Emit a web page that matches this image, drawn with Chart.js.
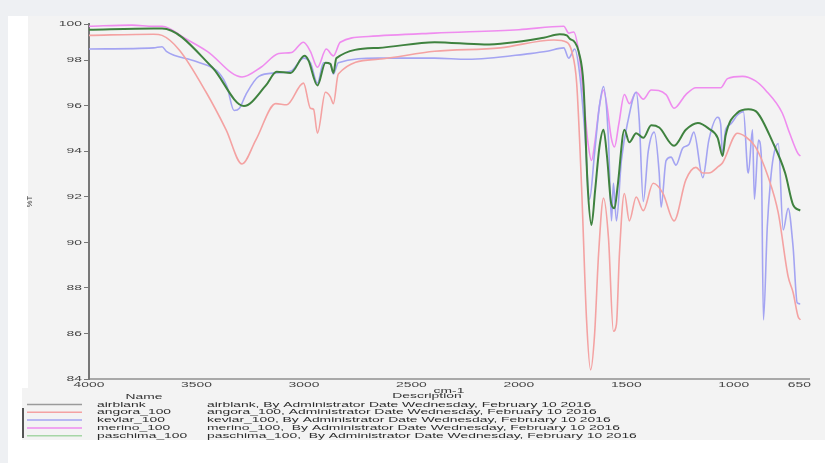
<!DOCTYPE html>
<html>
<head>
<meta charset="utf-8">
<title>FTIR spectra</title>
<script src="https://cdn.jsdelivr.net/npm/chart.js@4.4.0/dist/chart.umd.min.js"></script>
<style>
  html, body { margin: 0; padding: 0; background: #fff; }
  canvas { display: block; }
</style>
</head>
<body>
<canvas id="spectra" width="825" height="463"></canvas>
<script>
// series: wavenumber (cm-1) and %T
const wnAirblank = [];
const tAirblank = [];

const wnAngora = [4000, 3700, 3660, 3579, 3455, 3362, 3288, 3224, 3131, 3080, 3002, 2970, 2955, 2937, 2900, 2877, 2863, 2840, 2655, 2392, 2087, 1837, 1777, 1754, 1731, 1708, 1685, 1666, 1648, 1629, 1606, 1583, 1560, 1546, 1532, 1509, 1486, 1454, 1421, 1375, 1329, 1278, 1223, 1176, 1144, 1116, 1070, 1052, 983, 946, 899, 839, 793, 747, 724, 701, 690];
const tAngora = [99.1, 99.15, 99.1, 98.45, 96.6, 94.95, 93.45, 94.5, 96.1, 96.05, 97.0, 95.9, 95.85, 94.8, 96.6, 96.4, 96.1, 97.4, 98.05, 98.4, 98.55, 98.9, 98.8, 98.4, 97.0, 92.4, 86.6, 84.4, 85.9, 89.5, 91.95, 90.2, 86.1, 86.4, 89.5, 92.15, 90.95, 92.0, 91.4, 92.6, 92.15, 90.95, 92.75, 93.3, 93.05, 93.05, 93.35, 93.5, 94.8, 94.65, 94.2, 92.85, 91.3, 88.5, 87.8, 86.75, 86.6];

const wnKevlar = [4000, 3700, 3660, 3640, 3501, 3395, 3358, 3325, 3300, 3270, 3210, 3131, 3057, 3002, 2970, 2937, 2909, 2877, 2863, 2840, 2655, 2392, 2239, 1948, 1869, 1791, 1768, 1740, 1717, 1694, 1671, 1648, 1625, 1606, 1583, 1569, 1560, 1546, 1523, 1491, 1454, 1440, 1421, 1398, 1370, 1347, 1338, 1315, 1292, 1269, 1237, 1209, 1186, 1144, 1116, 1075, 1061, 1052, 1038, 1015, 983, 955, 936, 932, 913, 904, 885, 872, 862, 844, 830, 816, 793, 770, 747, 724, 705, 691];
const tKevlar = [98.5, 98.55, 98.6, 98.4, 97.95, 97.45, 96.85, 95.8, 95.9, 96.5, 97.3, 97.45, 97.55, 98.1, 97.9, 97.0, 97.9, 97.85, 97.4, 97.9, 98.1, 98.1, 98.05, 98.3, 98.4, 98.55, 98.1, 98.5, 97.4, 94.95, 91.9, 93.9, 96.0, 96.85, 94.5, 90.95, 92.6, 90.95, 93.6, 95.4, 96.6, 95.4, 91.8, 94.0, 94.85, 93.05, 91.55, 93.6, 93.75, 93.4, 94.15, 94.3, 94.85, 92.85, 94.5, 95.5, 95.2, 93.8, 94.95, 95.2, 95.6, 95.75, 93.2, 93.05, 94.95, 91.9, 94.5, 93.8, 86.6, 90.7, 92.6, 93.75, 94.35, 90.55, 91.5, 89.8, 87.35, 87.3];

const wnMerino = [4000, 3800, 3700, 3660, 3550, 3450, 3288, 3200, 3117, 3057, 3002, 2970, 2937, 2896, 2863, 2831, 2700, 2392, 2000, 1791, 1768, 1745, 1722, 1700, 1680, 1662, 1645, 1625, 1606, 1590, 1570, 1555, 1535, 1509, 1486, 1454, 1421, 1384, 1315, 1278, 1223, 1176, 1061, 1029, 959, 899, 853, 775, 740, 701, 690];
const tMerino = [99.5, 99.55, 99.5, 99.5, 98.95, 98.4, 97.27, 97.7, 98.3, 98.35, 98.8, 98.4, 97.7, 98.5, 98.2, 98.8, 99.05, 99.2, 99.35, 99.5, 99.2, 99.25, 98.4, 96.5, 94.5, 93.6, 94.5, 96.0, 96.7, 96.0, 94.6, 94.2, 95.2, 96.5, 96.1, 96.6, 96.3, 96.7, 96.5, 95.9, 96.5, 96.8, 96.8, 97.2, 97.3, 97.1, 96.7, 95.7, 94.8, 93.9, 93.8];

const wnPaschima = [4000, 3700, 3660, 3427, 3279, 3177, 3127, 3062, 2997, 2979, 2937, 2900, 2877, 2863, 2849, 2655, 2392, 2161, 1884, 1810, 1777, 1763, 1740, 1722, 1699, 1680, 1662, 1645, 1625, 1606, 1590, 1570, 1555, 1540, 1509, 1486, 1454, 1421, 1384, 1347, 1278, 1223, 1167, 1116, 1075, 1052, 1038, 983, 932, 890, 821, 761, 724, 691];
const tPaschima = [99.35, 99.4, 99.4, 97.7, 96.0, 96.9, 97.5, 97.45, 98.2, 98.0, 96.9, 97.9, 97.85, 97.45, 98.1, 98.55, 98.8, 98.7, 99.0, 99.15, 99.1, 98.95, 98.8, 98.4, 96.9, 92.5, 90.77, 92.3, 94.2, 94.95, 93.8, 91.7, 91.5, 92.5, 94.95, 94.4, 94.8, 94.6, 95.15, 95.05, 94.25, 94.95, 95.25, 95.0, 94.6, 93.8, 94.7, 95.7, 95.85, 95.7, 94.45, 93.05, 91.65, 91.4];

const names = ['airblank', 'angora_100', 'kevlar_100', 'merino_100', 'paschima_100'];
const descriptions = [
  'airblank, By Administrator Date Wednesday, February 10 2016',
  'angora_100, Administrator Date Wednesday, February 10 2016',
  'kevlar_100, By Administrator Date Wednesday, February 10 2016',
  'merino_100,  By Administrator Date Wednesday, February 10 2016',
  'paschima_100,  By Administrator Date Wednesday, February 10 2016'
];
const xTicks = [4000, 3500, 3000, 2500, 2000, 1500, 1000, 650];
const yTicks = [84, 86, 88, 90, 92, 94, 96, 98, 99.6];
const yTickLabels = ['84', '86', '88', '90', '92', '94', '96', '98', '100'];

const lineColors = ['#9a9a9a', '#f4a2a2', '#a4a4f2', '#ef8cef', '#3f823f'];
const legendColors = ['#9a9a9a', '#f4a2a2', '#a4a4f2', '#ef8cef', '#a6d6a6'];
const lineWidths = [1.5, 1.6, 1.6, 1.6, 2];

const wns = [wnAirblank, wnAngora, wnKevlar, wnMerino, wnPaschima];
const ts = [tAirblank, tAngora, tKevlar, tMerino, tPaschima];

const SX = 1.85;          // the original picture is stretched sideways
const FONT = '7.5px "Liberation Sans", Arial, sans-serif';

function stretchedText(ctx, text, x, y, align, color) {
  ctx.save();
  ctx.translate(x, y);
  ctx.scale(SX, 1);
  ctx.font = FONT;
  ctx.fillStyle = color || '#333';
  ctx.textAlign = align;
  ctx.textBaseline = 'middle';
  ctx.fillText(text, 0, 0);
  ctx.restore();
}

const backdrop = {
  id: 'backdrop',
  beforeDraw(chart) {
    const ctx = chart.ctx;
    ctx.save();
    ctx.fillStyle = '#ffffff';
    ctx.fillRect(0, 0, chart.width, chart.height);
    ctx.fillStyle = '#eef0f3';
    ctx.fillRect(0, 0, chart.width, 16);
    ctx.fillRect(0, 0, 8, chart.height);
    ctx.fillStyle = '#f3f3f3';
    ctx.fillRect(28, 16, chart.width - 28, 424);
    ctx.fillRect(22, 388, 8, 52);
    ctx.restore();
  }
};

const labels = {
  id: 'labels',
  afterDraw(chart) {
    const ctx = chart.ctx;
    const xs = chart.scales.x, ys = chart.scales.y;

    ys.ticks.forEach((t, i) => {
      stretchedText(ctx, yTickLabels[i], xs.left - 7, ys.getPixelForValue(t.value), 'right', '#444');
    });
    xs.ticks.forEach((t, i) => {
      const last = i === xs.ticks.length - 1;
      stretchedText(ctx, String(t.value), last ? xs.right + 2 : xs.getPixelForValue(t.value), 384.5, last ? 'right' : 'center', '#444');
    });

    // axis titles
    stretchedText(ctx, 'cm-1', (xs.left + xs.right) / 2, 391, 'center', '#333');
    ctx.save();
    ctx.translate(30, (ys.top + ys.bottom) / 2);
    ctx.rotate(-Math.PI / 2);
    ctx.font = FONT;
    ctx.fillStyle = '#444';
    ctx.textAlign = 'center';
    ctx.textBaseline = 'middle';
    ctx.fillText('%T', 0, 0);
    ctx.restore();

    // legend table
    stretchedText(ctx, 'Name', 144, 397, 'center', '#333');
    stretchedText(ctx, 'Description', 427, 396, 'center', '#333');
    names.forEach((n, i) => {
      const y = 404.5 + i * 7.8;
      ctx.save();
      ctx.strokeStyle = legendColors[i];
      ctx.lineWidth = 1.5;
      ctx.beginPath();
      ctx.moveTo(27, y);
      ctx.lineTo(82, y);
      ctx.stroke();
      ctx.restore();
      stretchedText(ctx, n, 97, y, 'left', '#2c2c2c');
      stretchedText(ctx, descriptions[i], 207, y, 'left', '#2c2c2c');
    });
    ctx.save();
    ctx.strokeStyle = '#555';
    ctx.lineWidth = 2;
    ctx.beginPath();
    ctx.moveTo(23, 408);
    ctx.lineTo(23, 438);
    ctx.stroke();
    ctx.restore();
  }
};

const datasets = names.map((n, i) => ({
  label: n,
  data: wns[i].map((w, k) => ({ x: w, y: ts[i][k] })),
  borderColor: lineColors[i],
  borderWidth: lineWidths[i],
  pointRadius: 0,
  fill: false,
  cubicInterpolationMode: 'monotone',
  order: n === 'paschima_100' ? 0 : i + 1
}));

new Chart(document.getElementById('spectra'), {
  type: 'line',
  data: { datasets },
  options: {
    responsive: false,
    animation: false,
    devicePixelRatio: 1,
    layout: { padding: { left: 0, right: 16, top: 24, bottom: 0 } },
    plugins: { legend: { display: false }, tooltip: { enabled: false } },
    scales: {
      x: {
        type: 'linear',
        reverse: true,
        min: 650,
        max: 4000,
        afterBuildTicks: s => { s.ticks = xTicks.map(v => ({ value: v })); },
        afterFit: s => { s.height = 84; },
        ticks: { display: false },
        grid: { display: false },
        border: { display: true, color: '#a8a8a8', width: 2 }
      },
      y: {
        min: 84,
        max: 99.6,
        afterBuildTicks: s => { s.ticks = yTicks.map(v => ({ value: v })); },
        afterFit: s => { s.width = 89; },
        ticks: { display: false },
        grid: { display: true, drawOnChartArea: false, drawTicks: true, tickLength: 5, color: '#777' },
        border: { display: true, color: '#777', width: 2 }
      }
    }
  },
  plugins: [backdrop, labels]
});
</script>
</body>
</html>
